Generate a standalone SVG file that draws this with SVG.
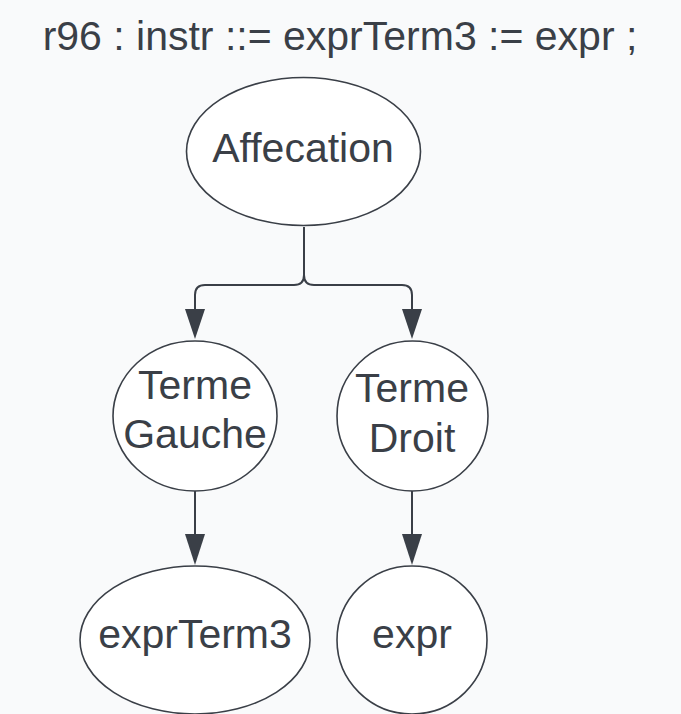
<svg xmlns="http://www.w3.org/2000/svg" width="681" height="714" viewBox="0 0 681 714">
<style>
.n{fill:#ffffff;stroke:#3a3f47;stroke-width:1.6}
.t{font-family:"Liberation Sans",Arial,sans-serif;font-size:41px;fill:#3a3f47;text-anchor:middle}
.c{fill:none;stroke:#3a3f47;stroke-width:2}
.h{fill:#3a3f47}
</style>
<rect width="681" height="714" fill="#f9fafb"/>
<text class="t" x="340" y="50" font-size="41.5">r96 : instr ::= exprTerm3 := expr ;</text>
<g id="connectors">
<path class="c" d="M304 227 V275 Q304 285 294 285 H205 Q195 285 195 295 V312"/>
<path class="c" d="M304 227 V275 Q304 285 314 285 H402 Q412 285 412 295 V312"/>
<polygon class="h" points="185,309 205,309 195,339"/>
<polygon class="h" points="402,309 422,309 412,339"/>
<path class="c" d="M195 491 V537"/>
<polygon class="h" points="185,534 205,534 195,565"/>
<path class="c" d="M412 491 V537" stroke-width="1.2"/>
<polygon class="h" points="402,534 422,534 412,565"/>
</g>
<g id="affecation">
<ellipse class="n" cx="303.5" cy="151.5" rx="117" ry="74"/>
<text class="t" x="303" y="162">Affecation</text>
</g>
<g id="terme-gauche">
<ellipse class="n" cx="195" cy="416" rx="82" ry="75"/>
<text class="t" x="195" y="399">Terme</text>
<text class="t" x="195" y="448">Gauche</text>
</g>
<g id="terme-droit">
<ellipse class="n" cx="412.5" cy="416" rx="75.5" ry="75"/>
<text class="t" x="412" y="402">Terme</text>
<text class="t" x="412" y="452">Droit</text>
</g>
<g id="exprterm3">
<ellipse class="n" cx="195" cy="640" rx="115" ry="74"/>
<text class="t" x="195" y="648">exprTerm3</text>
</g>
<g id="expr">
<ellipse class="n" cx="412" cy="640" rx="75" ry="74"/>
<text class="t" x="412" y="648">expr</text>
</g>
</svg>
